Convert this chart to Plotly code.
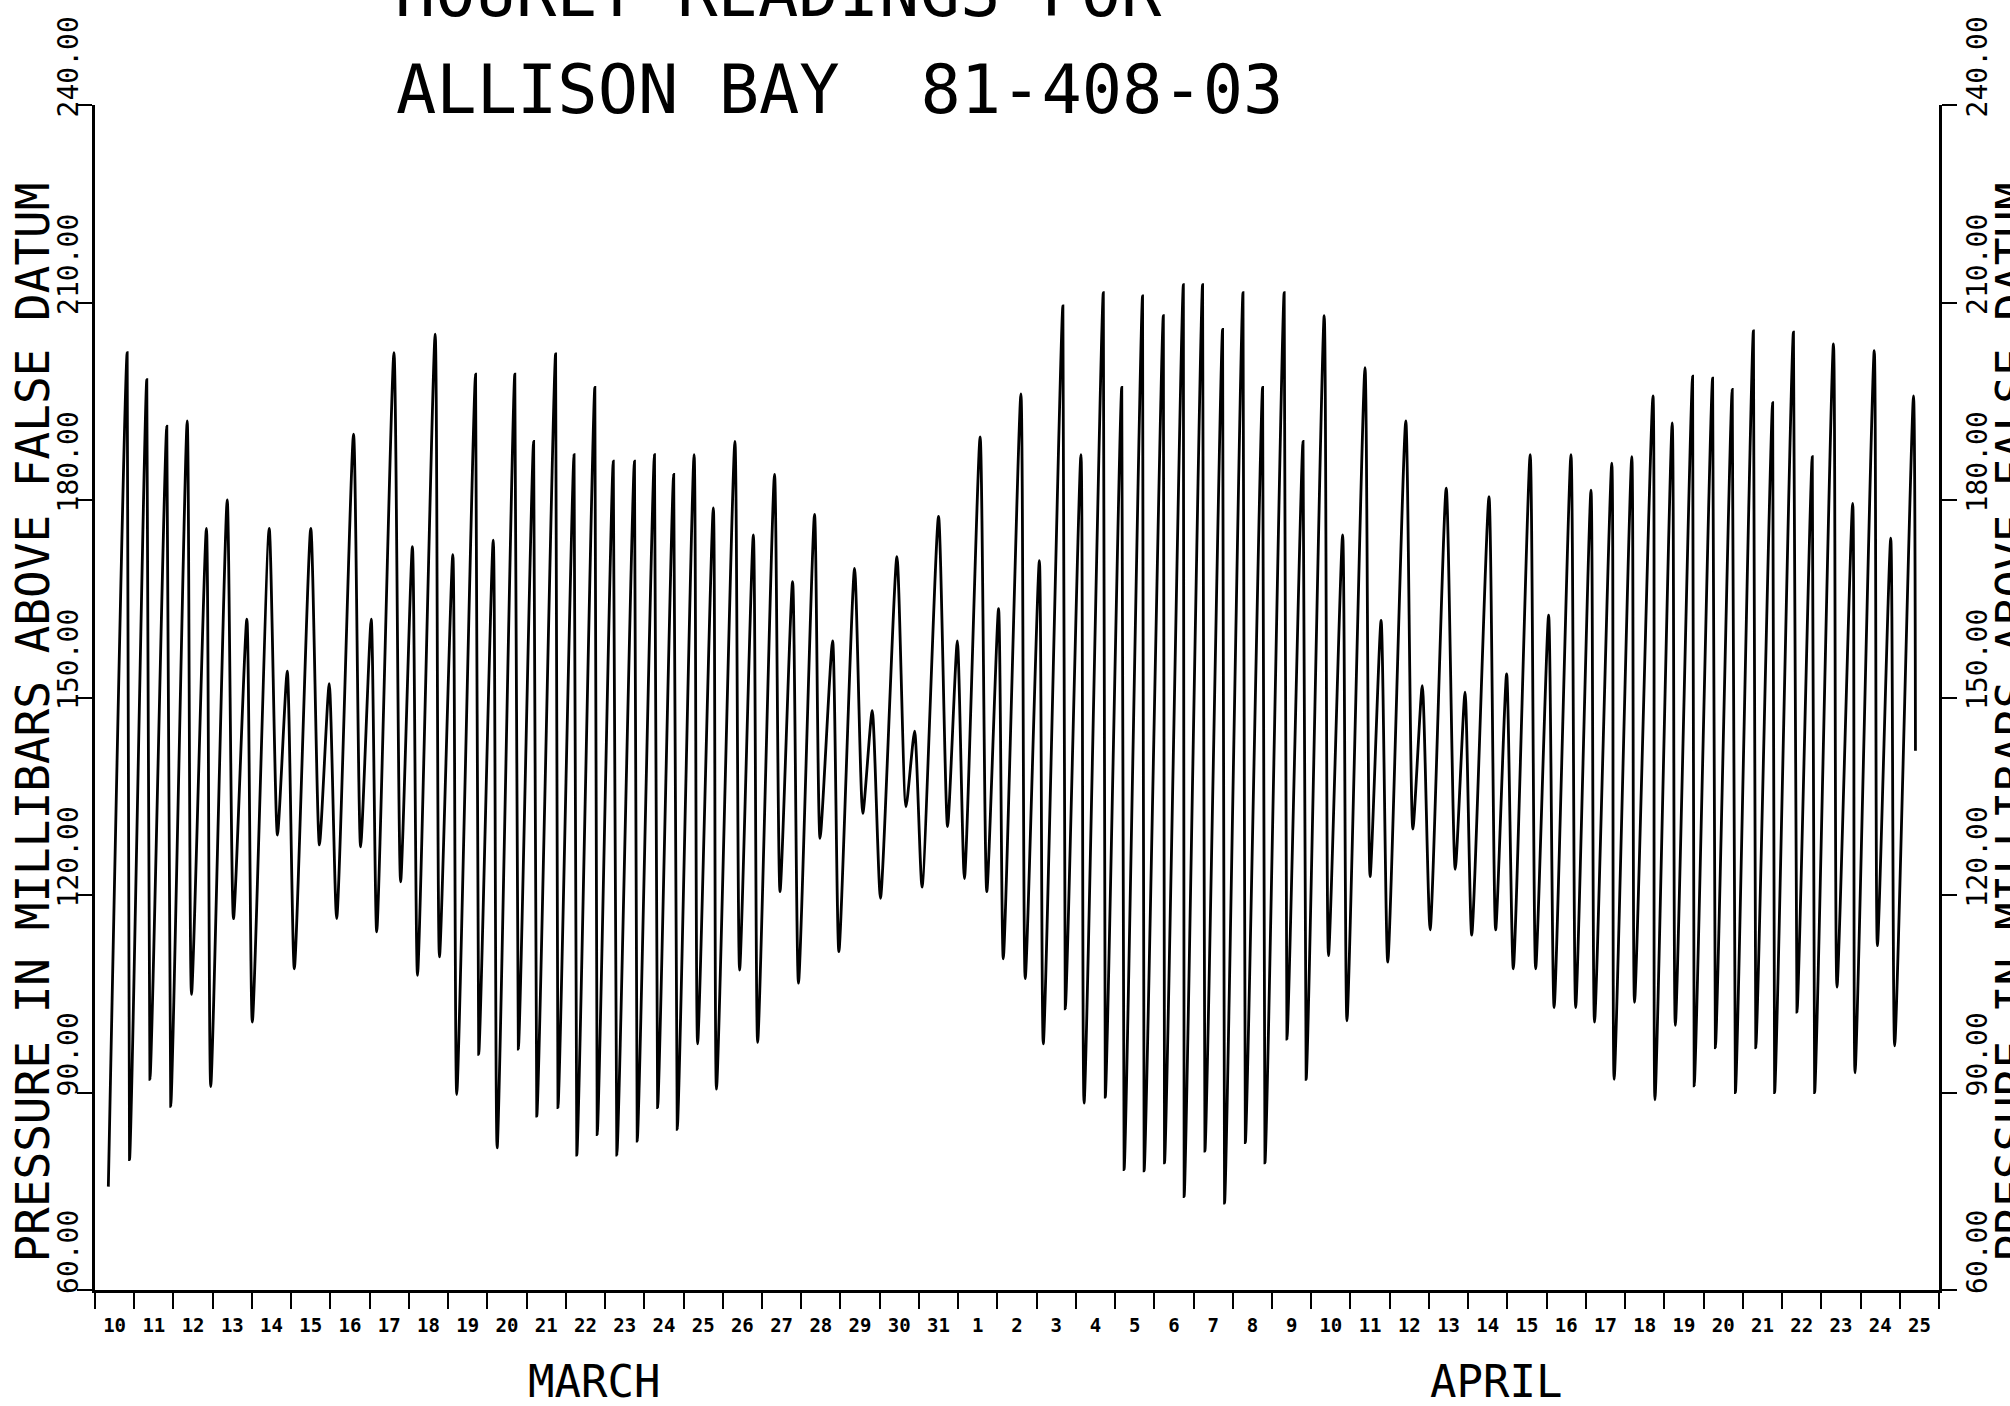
import plotly.graph_objects as go

# ---- data (time in days from 00:00 March 10, pressure in mb) ----
times_days = [
    0.34, 0.82, 0.88, 1.32, 1.40, 1.83, 1.93, 2.35, 2.46, 2.84, 2.95, 3.37, 3.53, 3.87, 4.01,
    4.44, 4.65, 4.90, 5.08, 5.50, 5.72, 5.97, 6.16, 6.59, 6.77, 7.04, 7.18, 7.62, 7.79,
    8.09, 8.22, 8.67, 8.78, 9.12, 9.22, 9.70, 9.78, 10.15, 10.25, 10.70, 10.79, 11.18, 11.26,
    11.74, 11.80, 12.21, 12.28, 12.74, 12.80, 13.21, 13.30, 13.75, 13.82, 14.26, 14.34,
    14.75, 14.84, 15.27, 15.36, 15.76, 15.84,
    16.31, 16.43, 16.78, 16.89, 17.32, 17.46, 17.78, 17.93, 18.34, 18.48, 18.80, 18.96,
    19.36, 19.57, 19.81, 20.02, 20.44, 20.67, 20.89, 21.08, 21.50, 21.73, 21.98, 22.16,
    22.56, 22.73, 23.03, 23.15, 23.60, 23.71,
    24.07, 24.17, 24.67, 24.73, 25.13, 25.21, 25.70, 25.75, 26.17, 26.23, 26.70, 26.74,
    27.23, 27.26, 27.74, 27.76, 28.23, 28.29, 28.74, 28.79, 29.26, 29.32, 29.76, 29.82,
    30.31, 30.38, 30.79, 30.87, 31.33, 31.44,
    31.80, 31.91, 32.37, 32.50, 32.78, 32.95, 33.41, 33.59, 33.83, 34.03, 34.44, 34.67,
    34.92, 35.09, 35.53, 35.70, 35.98, 36.15, 36.58, 36.72, 37.05, 37.19, 37.62, 37.74,
    38.13, 38.22, 38.66, 38.72, 39.17, 39.24,
    39.71, 39.76, 40.20, 40.28, 40.72, 40.76, 41.23, 41.30, 41.73, 41.81, 42.27, 42.33,
    42.76, 42.81, 43.29, 43.38, 43.77, 43.83, 44.31, 44.40, 44.80, 44.86, 45.35, 45.43,
    45.77, 45.87, 46.35, 46.40,
]
pressure_mb = [
    75.7, 202.4, 79.8, 198.3, 92.0, 191.2, 87.9, 192.0, 104.9, 175.7, 90.9, 180.0, 116.4, 161.9, 100.7,
    175.7, 129.1, 154.0, 108.8, 175.7, 127.6, 152.1, 116.4, 190.0, 127.3, 161.9, 114.4, 202.4, 122.0,
    172.9, 107.8, 205.2, 110.6, 171.7, 89.7, 199.1, 95.8, 173.9, 81.6, 199.1, 96.6, 188.9, 86.4,
    202.2, 87.7, 186.9, 80.5, 197.1, 83.6, 185.9, 80.5, 185.9, 82.6, 186.9, 87.7,
    183.9, 84.4, 186.9, 97.4, 178.8, 90.5,
    188.9, 108.6, 174.7, 97.6, 183.9, 120.5, 167.6, 106.6, 177.8, 128.6, 158.6, 111.4,
    169.6, 132.4, 148.0, 119.5, 171.4, 133.4, 144.9, 121.2, 177.5, 130.4, 158.6, 122.5,
    189.6, 120.5, 163.5, 110.3, 196.1, 107.3,
    170.8, 97.4, 209.5, 102.7, 186.9, 88.4, 211.5, 89.3, 197.1, 78.3, 211.0, 78.1,
    208.0, 79.3, 212.7, 74.2, 212.7, 81.1, 205.9, 73.2, 211.5, 82.4, 197.1, 79.3,
    211.5, 98.1, 188.9, 92.0, 208.0, 110.8,
    174.7, 100.9, 200.1, 122.8, 161.7, 109.8, 192.0, 130.0, 151.8, 114.7, 181.8, 123.9,
    150.8, 113.9, 180.5, 114.7, 153.6, 108.8, 186.9, 108.8, 162.5, 102.9, 186.9, 102.9,
    181.5, 100.7, 185.6, 92.0, 186.6, 103.7,
    195.8, 88.9, 191.7, 100.2, 198.8, 91.0, 198.5, 96.8, 196.8, 90.0, 205.7, 96.8,
    194.8, 90.0, 205.5, 102.2, 186.6, 90.0, 203.7, 106.0, 179.5, 93.0, 202.7, 112.3,
    174.2, 97.1, 195.8, 141.9,
]

day_labels = [str(d) for d in range(10, 32)] + [str(d) for d in range(1, 26)]
month_labels = ["MARCH", "APRIL"]
month_positions = [12.72, 35.71]
y_ticks = [60, 90, 120, 150, 180, 210, 240]
y_title = "PRESSURE IN MILLIBARS ABOVE FALSE DATUM"
title_lines = ["HOURLY READINGS FOR", "ALLISON BAY\u00a0\u00a081-408-03"]

MONO = "DejaVu Sans Mono"
n_days = len(day_labels)

fig = go.Figure()
fig.add_trace(go.Scatter(
    x=times_days, y=pressure_mb, mode="lines",
    line=dict(color="black", width=2.8, shape="spline", smoothing=0.6),
    showlegend=False, hoverinfo="skip",
))
# invisible copy so that the right-hand pressure axis is drawn
fig.add_trace(go.Scatter(
    x=times_days, y=pressure_mb, mode="lines", yaxis="y2", opacity=0,
    line=dict(color="black", width=0.1), showlegend=False, hoverinfo="skip",
))

yaxis_common = dict(
    range=[60, 240], tickmode="array", tickvals=y_ticks, tickformat=".2f",
    ticks="outside", ticklen=15, tickwidth=2, tickcolor="black",
    tickangle=-90, tickfont=dict(family=MONO, size=28, color="black"),
    showline=True, linecolor="black", linewidth=3,
    showgrid=False, zeroline=False, ticklabelshift=-34,
)

fig.update_layout(
    width=2010, height=1406, autosize=False,
    margin=dict(l=95, r=71, t=105, b=116),
    paper_bgcolor="white", plot_bgcolor="white",
    xaxis=dict(
        range=[0, n_days], tickmode="array",
        tickvals=[i + 0.5 for i in range(n_days)], ticktext=day_labels,
        ticks="", tickfont=dict(family=MONO, size=19, color="black", weight="bold"),
        ticklabelstandoff=16,
        minor=dict(tickmode="array", tickvals=list(range(n_days + 1)), ticks="outside",
                   ticklen=16, tickwidth=2, tickcolor="black", showgrid=False),
        showline=True, linecolor="black", linewidth=3,
        showgrid=False, zeroline=False,
    ),
    yaxis=dict(side="left", ticklabelstandoff=-12, **yaxis_common),
    yaxis2=dict(side="right", overlaying="y", matches="y", ticklabelstandoff=-4,
                **yaxis_common),
)

annotations = [
    dict(text=title_lines[0], xref="paper", yref="paper", x=0.3704, y=1.0945,
         xanchor="center", yanchor="middle", showarrow=False,
         font=dict(family=MONO, size=67, color="black")),
    dict(text=title_lines[1], xref="paper", yref="paper", x=0.404, y=1.0127,
         xanchor="center", yanchor="middle", showarrow=False,
         font=dict(family=MONO, size=67, color="black")),
    dict(text=y_title, xref="paper", yref="paper", x=-0.0335, y=0.479,
         xanchor="center", yanchor="middle", textangle=-90, showarrow=False,
         font=dict(family=MONO, size=46, color="black")),
    dict(text=y_title, xref="paper", yref="paper", x=1.0401, y=0.479,
         xanchor="center", yanchor="middle", textangle=-90, showarrow=False,
         font=dict(family=MONO, size=46, color="black")),
]
for name, pos in zip(month_labels, month_positions):
    annotations.append(dict(text=name, xref="x", yref="paper", x=pos, y=-0.077,
                            xanchor="center", yanchor="middle", showarrow=False,
                            font=dict(family=MONO, size=44, color="black")))
fig.update_layout(annotations=annotations)

fig.write_html("out.html")
